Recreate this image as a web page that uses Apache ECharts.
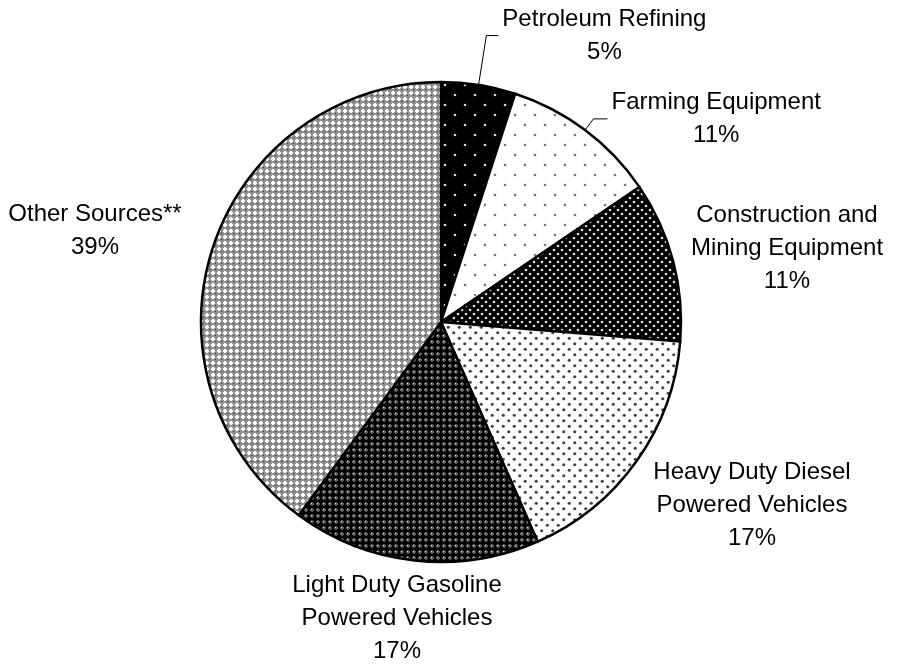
<!DOCTYPE html>
<html>
<head>
<meta charset="utf-8">
<script src="https://cdn.jsdelivr.net/npm/echarts@6/dist/echarts.min.js"></script>
<style>
  html, body { margin: 0; padding: 0; background: #fff; }
  #chart { width: 901px; height: 667px; }
</style>
</head>
<body>
<div id="chart"></div>
<script>
// slice names and shares
var sources = ['Petroleum Refining', 'Farming Equipment', 'Construction and\nMining Equipment',
  'Heavy Duty Diesel\nPowered Vehicles', 'Light Duty Gasoline\nPowered Vehicles', 'Other Sources**'];
var shares = [5.0, 10.5, 10.8, 17.1, 16.7, 39.9];
var pctLabels = ['5', '11', '11', '17', '17', '39'];

// label block centres for the labels that have no leader line
var labelSpots = [null, null, [787, 248], [752, 505], [397, 618], [95, 231]];

function makeTile(size, draw) {
  var c = document.createElement('canvas');
  c.width = size; c.height = size;
  var g = c.getContext('2d');
  draw(g, size);
  return c;
}

function dots(bg, fg, size, r) {
  return makeTile(size, function (g, s) {
    g.fillStyle = bg;
    g.fillRect(0, 0, s, s);
    g.fillStyle = fg;
    [[s / 4, s / 4], [s * 3 / 4, s * 3 / 4]].forEach(function (p) {
      g.beginPath();
      g.arc(p[0], p[1], r, 0, Math.PI * 2);
      g.fill();
    });
  });
}

// dark grid with black crosses
var darkHatch = makeTile(6, function (g) {
  g.fillStyle = '#5a5a5a';
  g.fillRect(0, 0, 6, 6);
  g.fillStyle = '#000';
  g.fillRect(2, 0, 2, 6);
  g.fillRect(0, 2, 6, 2);
  g.fillRect(1, 1, 4, 4);
  g.fillStyle = '#ccc';
  g.fillRect(5, 5, 1, 1);
});

// light grid with white crosses
var lightHatch = makeTile(6, function (g) {
  g.fillStyle = '#909090';
  g.fillRect(0, 0, 6, 6);
  g.fillStyle = '#fff';
  g.fillRect(2, 1, 2, 4);
  g.fillRect(1, 2, 4, 2);
  g.fillStyle = '#333';
  g.fillRect(5, 5, 1, 1);
});

var tiles = [
  dots('#000', '#d8d8d8', 20, 1.3),
  dots('#fff', '#777', 20, 1.3),
  dots('#000', '#e0e0e0', 8, 1.3),
  dots('#fff', '#444', 11, 1.6),
  darkHatch,
  lightHatch
];

var lineLen = [50, 14, 0, 0, 0, 0];
var lineLen2 = [12, 14, 0, 0, 0, 0];

var pieData = sources.map(function (name, i) {
  return {
    name: name,
    value: shares[i],
    itemStyle: { color: { image: tiles[i], repeat: 'repeat' } },
    labelLine: { show: i < 2, length: lineLen[i], length2: lineLen2[i] }
  };
});

var myChart = echarts.init(document.getElementById('chart'), null, { renderer: 'canvas' });

myChart.setOption({
  animation: false,
  backgroundColor: '#fff',
  series: [{
    type: 'pie',
    center: [441, 322],
    radius: 240,
    startAngle: 90,
    clockwise: true,
    avoidLabelOverlap: false,
    itemStyle: { borderColor: '#000', borderWidth: 2.5 },
    label: {
      show: true,
      position: 'outside',
      color: '#000',
      fontFamily: 'Liberation Sans, Arial, sans-serif',
      fontSize: 24,
      lineHeight: 33,
      distanceToLabelLine: 4,
      formatter: function (p) {
        return p.name + '\n' + pctLabels[p.dataIndex] + '%';
      }
    },
    labelLine: { lineStyle: { color: '#000', width: 1 } },
    labelLayout: function (p) {
      var i = p.dataIndex;
      if (!labelSpots[i]) {
        return {
          x: p.labelRect.x + p.labelRect.width / 2,
          y: p.labelRect.y + p.labelRect.height / 2,
          align: 'center',
          verticalAlign: 'middle',
          labelLinePoints: p.labelLinePoints
        };
      }
      return { x: labelSpots[i][0], y: labelSpots[i][1], align: 'center', verticalAlign: 'middle' };
    },
    emphasis: { disabled: true },
    data: pieData
  }]
});
</script>
</body>
</html>
